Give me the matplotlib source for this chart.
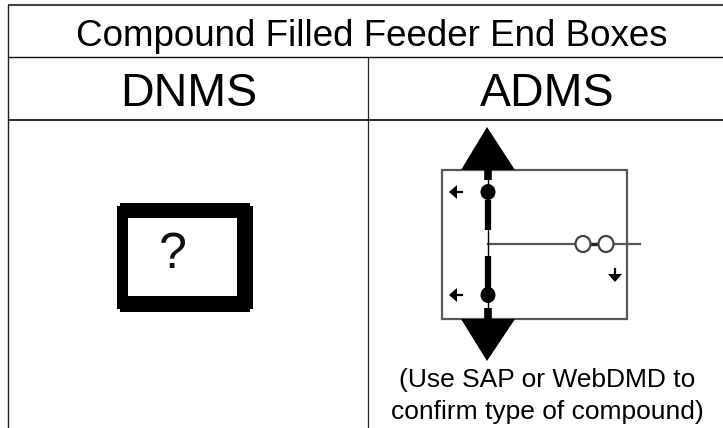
"""Compound filled feeder end boxes: DNMS vs ADMS symbol table."""
import matplotlib
matplotlib.use("Agg")
import matplotlib.pyplot as plt
from matplotlib.patches import Ellipse, Polygon, Rectangle

plt.rcParams["font.family"] = ["Liberation Sans", "DejaVu Sans"]

TITLE = "Compound Filled Feeder End Boxes"
HEADERS = ["DNMS", "ADMS"]
NOTE = "(Use SAP or WebDMD to\nconfirm type of compound)"

# table rules, in picture pixels
RULE_X = [8, 368]
RULE_Y = [5, 57, 120]

# DNMS symbol
DNMS_OUTER = [(120, 203, 130, 109), (117, 206, 136, 103)]
DNMS_INNER = (128, 218, 109, 78)

# ADMS symbol
BOX = (442, 170, 185, 149)
TRIANGLES = [[(461, 170), (515, 170), (487, 127)],
             [(461, 319), (515, 319), (487, 361)]]
BUS_STUBS = [(170, 180), (308, 319)]
BUS_SEGMENTS = [(200, 230), (256, 290)]
BUS_DOTS = [192, 295]
TAIL_CIRCLES = [583, 606]
LEFT_ARROWS = [(456, 192), (456, 295)]
DOWN_ARROW = (615, 275)

fig = plt.figure(figsize=(7.23, 4.28), dpi=100)
ax = fig.add_axes([0, 0, 1, 1])
ax.set_xlim(0, 723)
ax.set_ylim(428, 0)
ax.axis("off")

# table grid
ax.plot([RULE_X[0], 723], [RULE_Y[0], RULE_Y[0]], color="#444444", lw=1.5, solid_capstyle="butt")
ax.plot([RULE_X[0], 723], [RULE_Y[1], RULE_Y[1]], color="#111111", lw=1, solid_capstyle="butt")
ax.plot([RULE_X[0], 723], [RULE_Y[2], RULE_Y[2]], color="#333333", lw=1.5, solid_capstyle="butt")
ax.plot([RULE_X[0], RULE_X[0]], [RULE_Y[0], 428], color="#222222", lw=1, solid_capstyle="butt")
ax.plot([RULE_X[1], RULE_X[1]], [RULE_Y[1], 428], color="#222222", lw=0.9, solid_capstyle="butt")

ax.text(372, 32, TITLE, fontsize=26.5, ha="center", va="center_baseline")
ax.text(189, 89, HEADERS[0], fontsize=33.5, ha="center", va="center_baseline")
ax.text(547, 89, HEADERS[1], fontsize=33.5, ha="center", va="center_baseline")
ax.text(547.5, 396, NOTE, fontsize=19, ha="center", va="center", linespacing=1.38)

# DNMS symbol
for r in DNMS_OUTER:
    ax.add_patch(Rectangle(r[:2], r[2], r[3], fc="black", ec="none"))
ax.add_patch(Rectangle(DNMS_INNER[:2], DNMS_INNER[2], DNMS_INNER[3], fc="white", ec="none"))
ax.text(173, 255, "?", fontsize=36, ha="center", va="center", color="#111111")

# ADMS symbol
ax.plot([488, 640], [244, 244], color="#555555", lw=1.6, zorder=2)
ax.add_patch(Rectangle(BOX[:2], BOX[2], BOX[3], fc="none", ec="#5a5a5a", lw=1.6, zorder=2))
for pts in TRIANGLES:
    ax.add_patch(Polygon(pts, fc="black", ec="none", zorder=4))
for y0, y1 in BUS_STUBS:
    ax.plot([487.5, 487.5], [y0, y1], color="black", lw=5.5, solid_capstyle="butt", zorder=4)
for y0, y1 in BUS_SEGMENTS:
    ax.plot([488, 488], [y0, y1], color="black", lw=4.5, solid_capstyle="butt", zorder=4)
ax.plot([488, 488], [175, 315], color="black", lw=1, zorder=3)
for y in BUS_DOTS:
    ax.add_patch(Ellipse((488, y), 15, 16, fc="black", ec="none", zorder=4))
ax.plot(TAIL_CIRCLES, [244, 244], color="#222222", lw=2.4, zorder=3)
for x in TAIL_CIRCLES:
    ax.add_patch(Ellipse((x, 244), 15, 16, fc="white", ec="#444444", lw=1.6, zorder=3))

# small direction arrows
for x, y in LEFT_ARROWS:
    ax.add_patch(Polygon([(x - 7, y), (x + 1, y - 7), (x + 1, y + 7)], fc="black", ec="none"))
    ax.plot([x, x + 6], [y, y], color="black", lw=1.6)
x, y = DOWN_ARROW
ax.add_patch(Polygon([(x, y + 7), (x - 7, y - 1), (x + 7, y - 1)], fc="black", ec="none"))
ax.plot([x, x], [y - 6, y], color="black", lw=1.6)

fig.savefig("out.png", dpi=100)
